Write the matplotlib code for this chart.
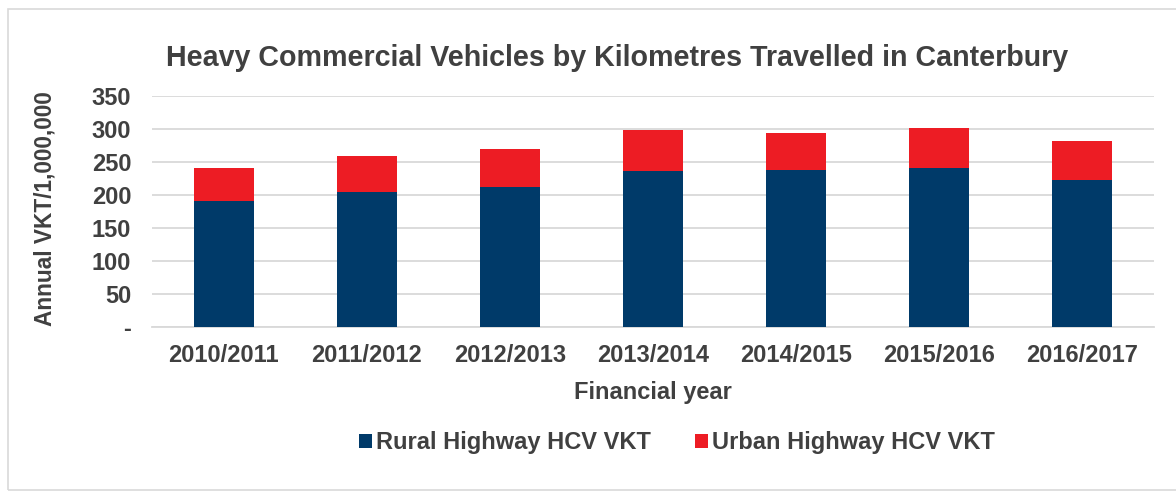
import matplotlib
matplotlib.use("Agg")
import matplotlib.pyplot as plt
from matplotlib.patches import Rectangle

years = ["2010/2011", "2011/2012", "2012/2013", "2013/2014", "2014/2015", "2015/2016", "2016/2017"]
rural = [190.6, 205.1, 211.6, 236.2, 237.2, 241.2, 223.2]
urban = [49.6, 53.7, 58.7, 62.2, 56.7, 59.7, 58.6]
yticks = [0, 50, 100, 150, 200, 250, 300, 350]
ytick_labels = ["-", "50", "100", "150", "200", "250", "300", "350"]

plt.rcParams['font.family'] = ['Liberation Sans', 'DejaVu Sans']
TXT = "#404040"
BLUE = "#003A69"
RED = "#ED1C24"
FS = 17

fig = plt.figure(figsize=(11.76, 4.93), dpi=100)
fig.patches.append(Rectangle((8/1176, 1-490/493), 1 - 8/1176 + 0.01, (490-9)/493,
                             transform=fig.transFigure, fill=False,
                             edgecolor="#D9D9D9", linewidth=1.2))
ax = fig.add_axes([152/1176, 1-327/493, (1154-152)/1176, (327-96)/493])

x = list(range(len(years)))
ax.bar(x, rural, width=0.42, color=BLUE, label="Rural Highway HCV VKT", zorder=3)
ax.bar(x, urban, width=0.42, bottom=rural, color=RED, label="Urban Highway HCV VKT", zorder=3)

ax.set_xlim(-0.5, len(years) - 0.5)
ax.set_ylim(0, 350)
ax.set_yticks(yticks)
ax.set_yticklabels(ytick_labels)
ax.set_xticks(x)
ax.set_xticklabels(years)
ax.yaxis.grid(True, color="#D9D9D9", linewidth=1.3, zorder=0)
ax.tick_params(axis='both', length=0, labelsize=FS, labelcolor=TXT)
for lab in ax.get_xticklabels() + ax.get_yticklabels():
    lab.set_fontweight('bold')
ax.tick_params(axis='x', pad=12)
ax.tick_params(axis='y', pad=15)
for s in ["top", "right", "left"]:
    ax.spines[s].set_visible(False)
ax.spines["bottom"].set_color("#D9D9D9")
ax.spines["bottom"].set_linewidth(1.3)

ax.set_xlabel("Financial year", fontsize=FS, fontweight='bold', color=TXT, labelpad=10)
fig.text(45/1176, 1-209/493, "Annual VKT/1,000,000", rotation=90, fontsize=16.3,
         fontweight='bold', color=TXT, ha='center', va='center')
fig.text(617/1176, 1-58/493, "Heavy Commercial Vehicles by Kilometres Travelled in Canterbury",
         fontsize=20.6, fontweight='bold', color=TXT, ha='center', va='center')

leg = fig.legend(loc='center', bbox_to_anchor=(677/1176, 1-443/493), ncol=2, frameon=False,
                 fontsize=FS, handlelength=0.55, handleheight=0.55, handletextpad=0.15,
                 columnspacing=1.9)
for t in leg.get_texts():
    t.set_color(TXT)
    t.set_fontweight('bold')

fig.savefig("out.png", dpi=100)
